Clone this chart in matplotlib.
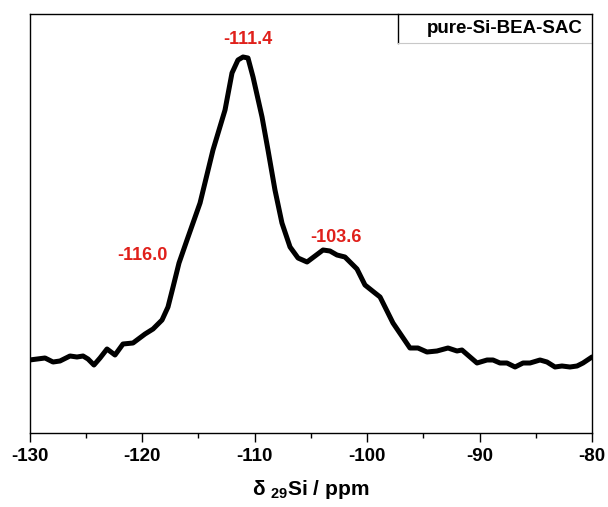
import numpy as np
import matplotlib
matplotlib.use('Agg')
import matplotlib.pyplot as plt
from matplotlib.ticker import MultipleLocator

plt.rcParams['font.family'] = 'Liberation Sans'
plt.rcParams['font.weight'] = 'bold'
plt.rcParams['axes.unicode_minus'] = False
plt.rcParams['mathtext.fontset'] = 'custom'
plt.rcParams['mathtext.rm'] = 'Liberation Sans:bold'
plt.rcParams['mathtext.default'] = 'rm'

# chemical shift (ppm) and intensity (a.u.)
shift = [-130.0, -128.62, -127.91, -127.29, -126.40, -125.78, -125.24, -124.80,
         -124.27, -123.73, -123.11, -122.40, -121.69, -120.80, -119.73, -119.02,
         -118.22, -117.69, -117.24, -116.71, -116.00, -114.84, -113.69, -112.62,
         -112.00, -111.47, -111.02, -110.58, -110.13, -109.33, -108.80, -108.18,
         -107.56, -106.84, -106.13, -105.33, -104.62, -103.91, -103.29, -102.67,
         -101.96, -100.89, -100.18, -99.29, -98.84, -97.69, -96.18, -95.47,
         -94.67, -93.78, -92.80, -92.00, -91.56, -90.84, -90.22, -89.33,
         -88.80, -88.18, -87.56, -86.84, -86.13, -85.51, -84.62, -84.00,
         -83.29, -82.67, -81.96, -81.33, -80.80, -80.0]
intensity = [73, 75, 71, 72, 77, 76, 77, 74,
             68, 75, 84, 78, 89, 90, 99, 104,
             113, 126, 146, 170, 193, 230, 283, 323,
             360, 373, 376, 375, 356, 316, 283, 243,
             210, 186, 175, 171, 177, 183, 182, 178,
             176, 164, 148, 140, 136, 110, 85, 85,
             81, 82, 85, 82, 83, 76, 70, 73,
             73, 70, 70, 66, 70, 70, 73, 71,
             66, 67, 66, 67, 70, 76]

peak_labels = ['-111.4', '-116.0', '-103.6']
peak_x = [-110.6, -120.0, -102.75]
peak_y = [393, 178, 195]

fig = plt.figure(figsize=(6.08, 5.07), dpi=100)
ax = fig.add_axes([29.5 / 608, (507 - 433) / 507, 562.5 / 608, 419 / 507])

ax.plot(shift, intensity, color='black', lw=3.6, solid_joinstyle='round',
        solid_capstyle='round')

for lab, px, py in zip(peak_labels, peak_x, peak_y):
    ax.text(px, py, lab, color='#e0201b', fontsize=13, fontweight='bold',
            ha='center', va='center')

ax.set_xlim(-130, -80)
ax.set_ylim(0, 419)
ax.xaxis.set_major_locator(MultipleLocator(10))
ax.xaxis.set_minor_locator(MultipleLocator(5))
ax.tick_params(axis='x', which='major', direction='out', length=6.5, width=1,
               labelsize=13.5, pad=4)
ax.tick_params(axis='x', which='minor', direction='out', length=3.5, width=1)
ax.set_yticks([])
for s in ax.spines.values():
    s.set_linewidth(1.0)

ax.set_xlabel(r'δ ${}_{29}$Si / ppm', fontsize=15, fontweight='bold', labelpad=10)

# legend-like box in the top right corner
x0 = (398 - 29.5) / 562.5
y0 = (433 - 43) / 419
ax.plot([x0, x0], [y0, 1], color='black', lw=1.0, transform=ax.transAxes,
        clip_on=False)
ax.plot([x0, 1], [y0, y0], color='#c8c8c8', lw=0.8, transform=ax.transAxes,
        clip_on=False)
ax.text(0.984, (433 - 28.5) / 419, 'pure-Si-BEA-SAC', transform=ax.transAxes,
        ha='right', va='center', fontsize=13.5, fontweight='bold')

fig.savefig('out.png', dpi=100)
